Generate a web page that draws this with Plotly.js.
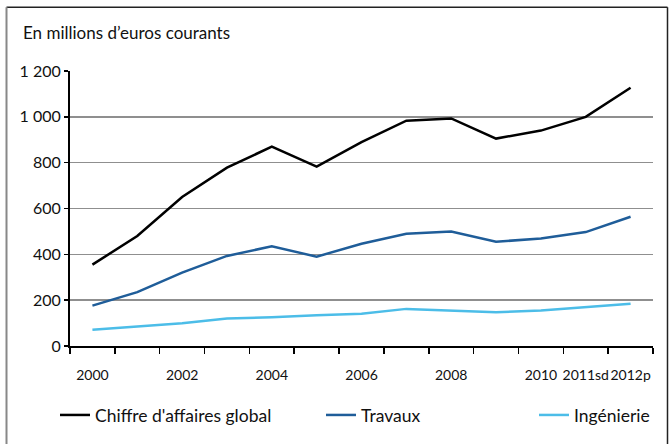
<!DOCTYPE html>
<html>
<head>
<meta charset="utf-8">
<script src="https://cdn.plot.ly/plotly-3.0.1.min.js"></script>
<style>
html,body{margin:0;padding:0;background:#fff;}
#chart{width:669px;height:444px;}
</style>
</head>
<body>
<div id="chart"></div>
<script>
const years = ['2000','2001','2002','2003','2004','2005','2006','2007','2008','2009','2010','2011sd','2012p'];
const yearLabels = ['2000','','2002','','2004','','2006','','2008','','2010','2011sd','2012p'];
const chiffreAffaires = [355, 480, 650, 778, 870, 783, 890, 983, 993, 905, 940, 1000, 1127];
const travaux = [176, 235, 320, 393, 435, 390, 446, 490, 500, 455, 469, 497, 564];
const ingenierie = [71, 84, 99, 120, 125, 134, 141, 162, 155, 147, 155, 168, 184];
const yTicks = [0, 200, 400, 600, 800, 1000, 1200];

const FONT = "Lato, 'Open Sans', sans-serif";
const L = 70, R = 653, T = 71.3, B = 347;
const W = 669, H = 444;
const px = x => (x - L) / (R - L);
const py = y => (B - y) / (B - T);

const traces = [
  {x: years, y: chiffreAffaires, name: "Chiffre d'affaires global", type: 'scatter', mode: 'lines',
   line: {color: '#000000', width: 2.5}, legend: 'legend'},
  {x: years, y: travaux, name: 'Travaux', type: 'scatter', mode: 'lines',
   line: {color: '#1f5d99', width: 2.5}, legend: 'legend2'},
  {x: years, y: ingenierie, name: 'Ingénierie', type: 'scatter', mode: 'lines',
   line: {color: '#4cbde8', width: 2.5}, legend: 'legend3'}
];

const legBase = {orientation: 'h', xref: 'paper', yref: 'paper', xanchor: 'left', yanchor: 'middle',
  y: py(415), bgcolor: 'rgba(0,0,0,0)', font: {family: FONT, size: 17.5, color: '#111'}, itemwidth: 30};

const layout = {
  width: W, height: H,
  margin: {l: L, r: W - R, t: T, b: H - B, pad: 0},
  paper_bgcolor: '#ffffff', plot_bgcolor: '#ffffff',
  font: {family: FONT, size: 16, color: '#111'},
  separators: ', ',
  showlegend: true,
  xaxis: {
    type: 'category', categoryorder: 'array', categoryarray: years,
    range: [-0.5, years.length - 0.5],
    tickmode: 'array', tickvals: years, ticktext: yearLabels, tickangle: 0,
    tickson: 'boundaries', ticks: 'outside', ticklen: 6, tickwidth: 1.5, tickcolor: '#000',
    ticklabelstandoff: 15,
    showline: true, linecolor: '#000', linewidth: 2, showgrid: false, zeroline: false,
    tickfont: {family: FONT, size: 14, color: '#111'}, fixedrange: true
  },
  yaxis: {
    range: [0, 1200], tickmode: 'array', tickvals: yTicks, tickformat: ',d',
    ticks: 'outside', ticklen: 4, tickwidth: 1.5, tickcolor: '#000',
    showline: true, linecolor: '#000', linewidth: 2,
    showgrid: true, gridcolor: '#8f8f8f', gridwidth: 1.5, zeroline: false,
    tickfont: {family: FONT, size: 16, color: '#111'}, fixedrange: true
  },
  legend: Object.assign({}, legBase, {x: px(55)}),
  legend2: Object.assign({}, legBase, {x: px(321)}),
  legend3: Object.assign({}, legBase, {x: px(534)}),
  annotations: [
    {text: 'En millions d’euros courants', xref: 'paper', yref: 'paper', x: px(21), y: py(33),
     xanchor: 'left', yanchor: 'middle', showarrow: false, font: {family: FONT, size: 17, color: '#111'}}
  ],
  shapes: [
    {type: 'line', xref: 'paper', yref: 'paper', x0: px(6.5), x1: px(667.5), y0: py(7.5), y1: py(7.5), line: {color: '#222', width: 1.5}},
    {type: 'line', xref: 'paper', yref: 'paper', x0: px(667.5), x1: px(667.5), y0: py(7.5), y1: py(460), line: {color: '#222', width: 1.5}},
    {type: 'line', xref: 'paper', yref: 'paper', x0: px(6.5), x1: px(6.5), y0: py(7.5), y1: py(460), line: {color: '#888', width: 2}}
  ]
};

Plotly.newPlot('chart', traces, layout, {displayModeBar: false, staticPlot: true});
</script>
</body>
</html>
